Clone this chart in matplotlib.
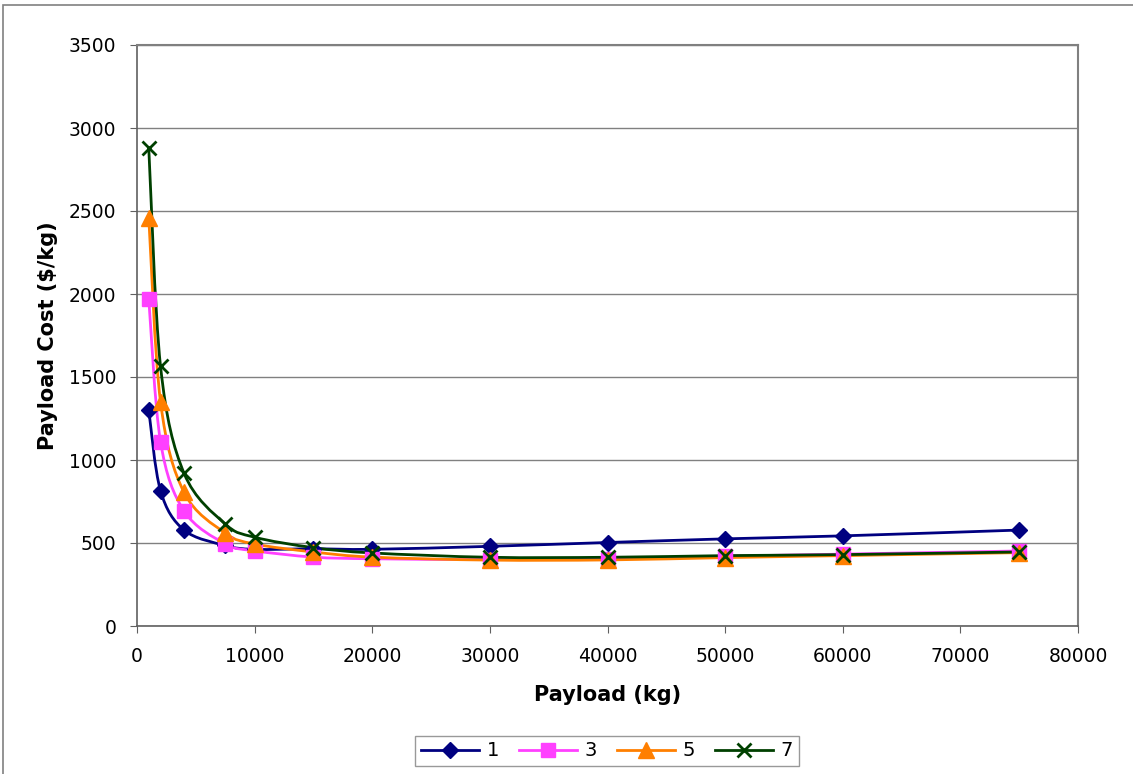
import matplotlib
matplotlib.use("Agg")
import matplotlib.pyplot as plt
from matplotlib.path import Path
from matplotlib.patches import PathPatch, Rectangle
from matplotlib.lines import Line2D
import numpy as np

payload = [1000, 2000, 4000, 7500, 10000, 15000, 20000, 30000, 40000, 50000, 60000, 75000]
series_names = ["1", "3", "5", "7"]
cost_1 = [1300, 815, 578, 485, 462, 465, 462, 480, 503, 525, 543, 578]
cost_3 = [1970, 1110, 693, 495, 453, 415, 405, 400, 403, 420, 433, 452]
cost_5 = [2460, 1350, 805, 560, 494, 446, 415, 397, 398, 412, 424, 442]
cost_7 = [2880, 1565, 920, 615, 535, 472, 440, 414, 414, 424, 430, 446]

colors = ["#000080", "#FF40FF", "#FF7F00", "#004000"]
markers = ["D", "s", "^", "x"]
msizes = [8, 10, 11, 10]

fig = plt.figure(figsize=(11.33, 7.74), dpi=100)
plt.rcParams['font.family'] = ['DejaVu Sans']

# outer frame
fig.patches.append(Rectangle((3/1133, -0.01), 1.5, 1 - 5/774 + 0.01, transform=fig.transFigure,
                             fill=False, edgecolor="#808080", linewidth=1.2))

ax = fig.add_axes([137/1133, 1 - 626/774, (1078 - 137)/1133, (626 - 45)/774])

def smooth_path(xs, ys):
    pts = np.column_stack([xs, ys]).astype(float)
    n = len(pts)
    verts = [pts[0]]
    codes = [Path.MOVETO]
    for i in range(n - 1):
        p0 = pts[i - 1] if i > 0 else pts[i]
        p1 = pts[i]
        p2 = pts[i + 1]
        p3 = pts[i + 2] if i + 2 < n else pts[i + 1]
        c1 = p1 + (p2 - p0) / 6.0
        c2 = p2 - (p3 - p1) / 6.0
        verts += [c1, c2, p2]
        codes += [Path.CURVE4] * 3
    return Path(verts, codes)

all_series = [cost_1, cost_3, cost_5, cost_7]
handles = []
for k, (ys, c, m, ms, name) in enumerate(zip(all_series, colors, markers, msizes, series_names)):
    patch = PathPatch(smooth_path(payload, ys), facecolor="none", edgecolor=c, linewidth=2, zorder=3 + k)
    ax.add_patch(patch)
    mew = 2 if m == "x" else 1
    ax.plot(payload, ys, linestyle="none", marker=m, markersize=ms, color=c,
            markeredgewidth=mew, zorder=10 + k)
    handles.append(Line2D([], [], color=c, marker=m, markersize=ms, linewidth=2,
                          markeredgewidth=mew, label=name))

ax.set_xlim(0, 80000)
ax.set_ylim(0, 3500)
ax.set_xticks(np.arange(0, 80001, 10000))
ax.set_yticks(np.arange(0, 3501, 500))
ax.yaxis.grid(True, color="#808080", linewidth=1)
ax.set_axisbelow(True)
for s in ["top", "right"]:
    ax.spines[s].set_color("#808080")
    ax.spines[s].set_linewidth(1.5)
for s in ["left", "bottom"]:
    ax.spines[s].set_color("#606060")
    ax.spines[s].set_linewidth(1.2)
ax.tick_params(axis="both", direction="out", length=5, color="#606060", labelsize=13.5)
ax.tick_params(axis="x", pad=10)
ax.tick_params(axis="y", pad=10)

ax.set_xlabel("Payload (kg)", fontsize=15, fontweight="bold", labelpad=14)
ax.set_ylabel("Payload Cost (\\$/kg)", fontsize=15, fontweight="bold", labelpad=8)

leg = fig.legend(handles=handles, loc="center", bbox_to_anchor=(607/1133, 1 - 751/774), ncol=4,
                 fontsize=14, frameon=True, fancybox=False, edgecolor="#808080",
                 handlelength=3.0, columnspacing=1.0, handletextpad=0.4, borderpad=0.3)
leg.get_frame().set_linewidth(1)

fig.savefig("out.png", dpi=100)
